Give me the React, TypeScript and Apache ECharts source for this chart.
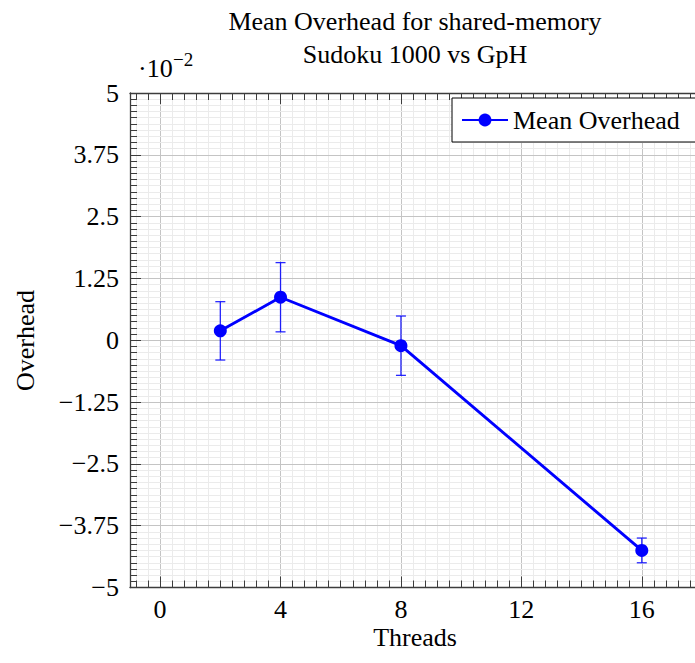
import { useEffect, useRef } from "react";
import * as echarts from "echarts";

// ---- data ----
const threads = [2, 4, 8, 16];
const meanOverhead = [0.19, 0.87, -0.11, -4.25];
const errorMargin = [0.59, 0.7, 0.6, 0.25];

const xTicks = [0, 4, 8, 12, 16];
const xTickLabels = ["0", "4", "8", "12", "16"];
const yTicks = [-5, -3.75, -2.5, -1.25, 0, 1.25, 2.5, 3.75, 5];
const yTickLabels = ["−5", "−3.75", "−2.5", "−1.25", "0", "1.25", "2.5", "3.75", "5"];

const seriesName = "Mean Overhead";
const titleLines = ["Mean Overhead for shared-memory", "Sudoku 1000 vs GpH"];
const xAxisTitle = "Threads";
const yAxisTitle = "Overhead";
const scaleBase = "·10";
const scaleExp = "−2";

// ---- style ----
const FONT = "'Liberation Serif', 'Times New Roman', serif";
const BLUE = "#0000ff";
const AXIS = "#3c3c3c";
const MINOR_GRID = "#ebebeb";
const MAJOR_GRID = "#c4c4c4";
const XMIN = -1;
const XMAX = 18;
const YMIN = -5;
const YMAX = 5;

const minorX: number[] = [];
for (let i = -2; i <= 45; i++) {
  const v = Math.round(i * 4) / 10;
  if (v > XMIN && v < XMAX && Math.abs(v % 4) > 1e-6) minorX.push(v);
}

const labelFor = (ticks: number[], labels: string[]) => (v: number) => {
  const i = ticks.findIndex((t) => Math.abs(t - v) < 1e-6);
  return i >= 0 ? labels[i] : "";
};

export default function App() {
  const ref = useRef<HTMLDivElement>(null);
  useEffect(() => {
    if (!ref.current) return;
    const chart = echarts.init(ref.current, null, { renderer: "svg" });

    const baseX: any = {
      type: "value",
      min: XMIN,
      max: XMAX,
      gridIndex: 0,
      axisLine: { show: false, onZero: false },
      axisTick: { show: false },
      axisLabel: { show: false },
      splitLine: { show: false },
    };
    const baseY: any = {
      type: "value",
      min: YMIN,
      max: YMAX,
      gridIndex: 0,
      position: "left",
      axisLine: { show: false, onZero: false },
      axisTick: { show: false },
      axisLabel: { show: false },
      splitLine: { show: false },
    };
    const axisLine = { show: true, onZero: false, lineStyle: { color: AXIS, width: 1.3 } };
    const majorTickX = { show: true, inside: true, length: 11, customValues: xTicks, lineStyle: { color: AXIS, width: 1 } };
    const minorTickX = { show: true, inside: true, length: 7, customValues: minorX, lineStyle: { color: AXIS, width: 1 } };

    const option: any = {
      animation: false,
      grid: { left: 130, top: 93, width: 572, height: 494.5, containLabel: false, outerBoundsMode: "none" },
      xAxis: [
        {
          ...baseX,
          position: "bottom",
          z: 10,
          axisLine,
          axisTick: majorTickX,
          axisLabel: {
            show: true,
            customValues: xTicks,
            formatter: labelFor(xTicks, xTickLabels),
            margin: 9,
            fontSize: 26,
            fontFamily: FONT,
            color: "#000",
          },
        },
        { ...baseX, position: "bottom", z: 10, axisTick: minorTickX },
        { ...baseX, position: "top", z: 10, axisLine, axisTick: majorTickX },
        { ...baseX, position: "top", z: 10, axisTick: minorTickX },
        {
          ...baseX,
          position: "bottom",
          z: 0,
          axisTick: { show: false, customValues: minorX },
          splitLine: { show: true, lineStyle: { color: MINOR_GRID, width: 1 } },
        },
        {
          ...baseX,
          position: "bottom",
          z: 1,
          axisTick: { show: false, customValues: xTicks },
          splitLine: { show: true, lineStyle: { color: MAJOR_GRID, width: 1 } },
        },
      ],
      yAxis: [
        {
          ...baseY,
          interval: 1.25,
          z: 10,
          axisLine,
          axisTick: { show: true, inside: true, length: 11, lineStyle: { color: AXIS, width: 1 } },
          axisLabel: {
            show: true,
            showMinLabel: true,
            showMaxLabel: true,
            formatter: labelFor(yTicks, yTickLabels),
            margin: 11,
            fontSize: 26,
            fontFamily: FONT,
            color: "#000",
          },
        },
        {
          ...baseY,
          interval: 0.125,
          z: 10,
          axisTick: { show: true, inside: true, length: 7, lineStyle: { color: AXIS, width: 1 } },
        },
        {
          ...baseY,
          interval: 0.125,
          z: 2,
          splitLine: { show: true, lineStyle: { color: MINOR_GRID, width: 1 } },
        },
        {
          ...baseY,
          interval: 1.25,
          z: 3,
          splitLine: { show: true, lineStyle: { color: MAJOR_GRID, width: 1 } },
        },
      ],
      legend: {
        data: [seriesName],
        left: 452,
        top: 98,
        orient: "horizontal",
        backgroundColor: "#fff",
        borderColor: "#000",
        borderWidth: 1,
        borderRadius: 0,
        padding: [9, 30, 9, 9],
        itemWidth: 46,
        itemHeight: 16,
        textStyle: { fontSize: 26, fontFamily: FONT, color: "#000" },
        z: 20,
      },
      series: [
        {
          type: "custom",
          name: "error",
          xAxisIndex: 0,
          yAxisIndex: 0,
          z: 5,
          silent: true,
          encode: { x: 0, y: [1, 2] },
          data: threads.map((t, i) => [t, meanOverhead[i] - errorMargin[i], meanOverhead[i] + errorMargin[i]]),
          renderItem: (_params: any, api: any) => {
            const x = api.value(0);
            const lo = api.coord([x, api.value(1)]);
            const hi = api.coord([x, api.value(2)]);
            const w = 5;
            const style = { stroke: BLUE, lineWidth: 1.3, opacity: 0.85 };
            return {
              type: "group",
              children: [
                { type: "line", shape: { x1: lo[0], y1: lo[1], x2: hi[0], y2: hi[1] }, style },
                { type: "line", shape: { x1: hi[0] - w, y1: hi[1], x2: hi[0] + w, y2: hi[1] }, style },
                { type: "line", shape: { x1: lo[0] - w, y1: lo[1], x2: lo[0] + w, y2: lo[1] }, style },
              ],
            };
          },
        },
        {
          type: "line",
          name: seriesName,
          xAxisIndex: 0,
          yAxisIndex: 0,
          z: 6,
          data: threads.map((t, i) => [t, meanOverhead[i]]),
          symbol: "circle",
          symbolSize: 13,
          lineStyle: { color: BLUE, width: 2.9 },
          itemStyle: { color: BLUE },
        },
      ],
      graphic: [
        {
          type: "text",
          x: 415,
          y: 21,
          style: { text: titleLines[0], fontSize: 26, fontFamily: FONT, fill: "#000", align: "center", verticalAlign: "middle" },
        },
        {
          type: "text",
          x: 415,
          y: 54,
          style: { text: titleLines[1], fontSize: 26, fontFamily: FONT, fill: "#000", align: "center", verticalAlign: "middle" },
        },
        {
          type: "text",
          x: 138,
          y: 68.5,
          style: { text: scaleBase, fontSize: 26, fontFamily: FONT, fill: "#000", align: "left", verticalAlign: "middle" },
        },
        {
          type: "text",
          x: 173,
          y: 59.5,
          style: { text: scaleExp, fontSize: 19, fontFamily: FONT, fill: "#000", align: "left", verticalAlign: "middle" },
        },
        {
          type: "text",
          x: 415,
          y: 637,
          style: { text: xAxisTitle, fontSize: 26, fontFamily: FONT, fill: "#000", align: "center", verticalAlign: "middle" },
        },
        {
          type: "text",
          x: 25,
          y: 340.5,
          rotation: Math.PI / 2,
          style: { text: yAxisTitle, fontSize: 26, fontFamily: FONT, fill: "#000", align: "center", verticalAlign: "middle" },
        },
      ],
    };

    chart.setOption(option);
    return () => chart.dispose();
  }, []);

  return (
    <div
      ref={ref}
      style={{ position: "absolute", left: 0, top: 0, width: 695, height: 663, background: "#fff" }}
    />
  );
}
